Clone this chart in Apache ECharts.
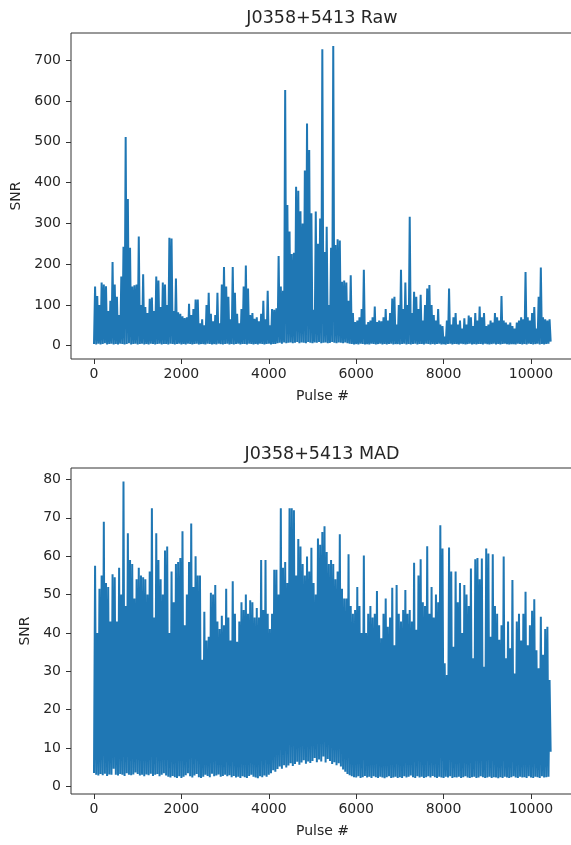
<!DOCTYPE html>
<html>
<head>
<meta charset="utf-8">
<script src="https://cdn.jsdelivr.net/npm/echarts@6/dist/echarts.min.js"></script>
<style>
  html, body { margin: 0; padding: 0; background: #ffffff; overflow: hidden; }
  #chart { width: 580px; height: 845px; }
</style>
</head>
<body>
<div id="chart"></div>
<script>
// Single-pulse SNR of J0358+5413, summarised as per-bin extremes
// (bin k spans pulses 50k .. 50k+49; the trace swings floor -> peak inside each bin).
const BIN = 50;

const pulseTicks = [0, 2000, 4000, 6000, 8000, 10000];
const rawTicks = [0, 100, 200, 300, 400, 500, 600, 700];
const madTicks = [0, 10, 20, 30, 40, 50, 60, 70, 80];

const rawPeak = [
  145, 122, 100, 155, 150, 146, 85, 110, 205, 150,
  120, 75, 170, 243, 512, 360, 240, 145, 148, 150,
  268, 100, 175, 95, 80, 115, 118, 85, 170, 160,
  95, 155, 150, 100, 265, 263, 85, 165, 82, 78,
  72, 68, 70, 103, 75, 90, 113, 113, 55, 65,
  50, 100, 130, 78, 60, 75, 130, 55, 150, 193,
  145, 120, 65, 193, 130, 78, 55, 90, 145, 197,
  140, 75, 80, 66, 70, 60, 78, 110, 65, 135,
  50, 90, 88, 92, 220, 145, 135, 627, 345, 280,
  225, 228, 390, 380, 330, 300, 430, 545, 480, 325,
  88, 329, 250, 312, 727, 230, 292, 100, 240, 735,
  247, 261, 258, 157, 160, 155, 110, 173, 80, 58,
  62, 70, 90, 186, 52, 58, 62, 70, 96, 58,
  62, 60, 70, 90, 62, 80, 116, 120, 52, 100,
  186, 90, 155, 100, 316, 80, 132, 120, 90, 125,
  62, 100, 140, 149, 100, 75, 62, 90, 52, 48,
  22, 62, 140, 52, 70, 80, 52, 62, 42, 67,
  52, 74, 70, 48, 80, 62, 96, 70, 80, 48,
  52, 62, 57, 80, 70, 62, 122, 62, 57, 52,
  57, 48, 42, 57, 62, 70, 65, 181, 70, 62,
  80, 95, 42, 120, 192, 70, 65, 62, 65
];

const rawFloor = [
  4, 3, 5, 3, 4, 6, 3, 4, 5, 3,
  4, 3, 5, 4, 3, 4, 6, 3, 4, 5,
  3, 4, 5, 3, 4, 3, 5, 4, 3, 4,
  5, 3, 4, 4, 3, 5, 4, 3, 4, 5,
  3, 4, 3, 5, 4, 3, 4, 5, 3, 4,
  4, 3, 5, 4, 3, 4, 3, 5, 4, 3,
  4, 5, 3, 4, 3, 4, 5, 3, 4, 4,
  3, 5, 4, 3, 4, 3, 5, 4, 3, 4,
  5, 3, 4, 4, 6, 7, 5, 8, 6, 7,
  8, 6, 7, 9, 6, 8, 7, 6, 9, 7,
  6, 8, 7, 9, 6, 7, 8, 6, 7, 9,
  7, 6, 8, 7, 6, 8, 6, 5, 4, 3,
  4, 3, 5, 4, 3, 4, 3, 5, 4, 3,
  4, 5, 3, 4, 3, 4, 5, 3, 4, 4,
  3, 4, 5, 3, 4, 3, 4, 5, 3, 4,
  4, 3, 5, 4, 3, 4, 3, 4, 5, 3,
  4, 3, 4, 5, 3, 4, 4, 3, 5, 4,
  3, 4, 5, 3, 4, 3, 4, 4, 3, 5,
  4, 3, 4, 5, 3, 4, 3, 4, 5, 4,
  3, 4, 4, 3, 5, 4, 3, 4, 3, 5,
  4, 3, 4, 5, 3, 4, 3, 4, 5, 10
];

const madPeak = [
  57.5, 40, 51.5, 55, 69, 53, 52, 43, 55.3, 54.5,
  43, 57, 50, 79.5, 47, 66, 59, 58, 49, 54,
  57, 55, 54.5, 54, 50, 56, 72.5, 44, 66, 59,
  54, 50, 61.5, 62.5, 40, 56, 48, 58, 58.5, 59.5,
  66.5, 42, 50, 58.5, 68.5, 52, 60, 55, 55, 33,
  45.5, 38, 39, 50.5, 50, 52.5, 43, 41, 44.5, 42,
  51.5, 44, 38, 53.5, 45, 37.7, 43, 48, 46, 50,
  45, 48.5, 48, 44, 46.5, 44, 59, 46, 59, 45,
  41, 45, 56.5, 56.5, 50, 72.5, 57, 58.5, 53, 72.5,
  72.5, 72, 55, 64.5, 62.5, 58, 55, 59.9, 56, 62.2,
  53, 50, 64.6, 63, 66.3, 67.8, 61.1, 58, 59, 58,
  54, 56, 65.7, 51.5, 49, 49, 60.5, 47, 45, 46,
  52, 47, 40, 60.2, 40, 45, 47, 44, 45, 50.9,
  42, 38.6, 45, 49, 41.6, 44, 51.8, 36.8, 52.5, 45,
  43, 46, 51.2, 45, 46, 43, 58.3, 40.8, 55, 59.2,
  48, 47, 62.6, 45, 52, 44, 50, 48, 68.1, 62,
  32.1, 29, 62.3, 56, 36.4, 56, 48, 53, 40, 52.5,
  50, 47, 56.8, 33.4, 59.2, 59.5, 54, 59.4, 31.2, 62,
  60.7, 39, 60.5, 47, 45, 38.2, 42, 59.9, 33.4, 43,
  36, 53.8, 29.4, 43, 45, 38, 45, 50.7, 36.8, 42,
  45.8, 48.8, 35.5, 30.8, 44.2, 34.3, 41, 41.6, 27.7
];

const madFloor = [
  3.5, 3, 2.8, 3.2, 2.9, 3.3, 2.7, 3.1, 3, 4.6,
  3, 2.8, 3.2, 3, 2.7, 3.4, 3, 2.9, 3.1, 3.6,
  3.2, 2.8, 3, 2.6, 3.1, 2.9, 3.3, 2.7, 3, 3.2,
  2.6, 3, 3.4, 2.8, 2.5, 2.3, 2.7, 2.4, 2.2, 2.6,
  2.2, 2.5, 2.9, 3.4, 2.6, 2.3, 2.8, 3.2, 2.4, 2.2,
  2.5, 3, 2.7, 2.4, 3.3, 2.6, 2.8, 3.1, 2.5, 2.7,
  3, 2.6, 2.9, 2.4, 2.7, 2.3, 2.5, 2.2, 2.6, 2.4,
  2.2, 2.7, 3, 2.5, 2.3, 2.1, 2.6, 2.4, 2.8, 2.5,
  3, 3.4, 4.2, 3.8, 4.5, 5.2, 4.6, 5.5, 4.9, 5.4,
  6, 5.3, 5.8, 6.4, 5.6, 6.2, 6.8, 5.9, 6.5, 6.1,
  6.6, 7.4, 6.3, 7, 6.5, 7.8, 6.2, 7.1, 6.6, 5.8,
  6.3, 5.5, 6, 5.2, 4.4, 3.8, 3.2, 2.9, 2.6, 2.4,
  2.3, 2.6, 2.2, 2.4, 2.7, 2.3, 2.5, 2.2, 2.6, 2.4,
  2.2, 2.5, 2.3, 2.1, 2.4, 2.6, 2.2, 2.3, 2.5, 2.2,
  2.4, 2.2, 2.6, 2.3, 2.5, 2.8, 2.4, 2.2, 2.6, 2.3,
  2.5, 2.2, 2.4, 2.6, 2.3, 2.7, 2.4, 2.2, 2.5, 2.3,
  2.2, 2.5, 2.3, 2.6, 2.2, 2.4, 2.3, 2.5, 2.2, 2.4,
  2.6, 2.3, 2.2, 2.4, 2.5, 2.2, 2.3, 2.6, 2.4, 2.2,
  2.3, 2.5, 2.2, 2.4, 2.3, 2.1, 2.4, 2.2, 2.5, 2.3,
  2.2, 2.4, 2.6, 2.3, 2.2, 2.5, 2.3, 2.4, 2.2, 2.6,
  2.3, 2.2, 2.5, 2.4, 2.2, 2.6, 2.3, 2.4, 2.5, 9
];

// Turn per-bin extremes into a single [pulse, snr] trace.
function trace(peak, floor) {
  const pts = [];
  for (let k = 0; k < peak.length; k++) {
    pts.push([k * BIN, floor[k]]);
    pts.push([k * BIN + BIN / 2, peak[k]]);
  }
  pts.push([peak.length * BIN, floor[peak.length]]);
  return pts;
}

const FONT = 'DejaVu Sans';
const INK = '#262626';
const BLUE = '#1f77b4';

function xAxisFor(gridIndex) {
  return {
    type: 'value', gridIndex: gridIndex,
    min: -526, max: 10984,
    name: 'Pulse #', nameLocation: 'middle', nameGap: 30,
    nameTextStyle: { fontFamily: FONT, fontSize: 14, color: INK },
    axisLine: { show: false, onZero: false },
    splitLine: { show: false },
    axisTick: { show: true, length: 5, customValues: pulseTicks,
                lineStyle: { color: '#333', width: 1 } },
    axisLabel: { customValues: pulseTicks, margin: 8,
                 fontFamily: FONT, fontSize: 14, color: INK,
                 formatter: v => String(v) }
  };
}

function yAxisFor(gridIndex, min, max, ticks, gap) {
  return {
    type: 'value', gridIndex: gridIndex,
    min: min, max: max,
    name: 'SNR', nameLocation: 'middle', nameGap: gap,
    nameTextStyle: { fontFamily: FONT, fontSize: 14, color: INK },
    axisLine: { show: false, onZero: false },
    splitLine: { show: false },
    axisTick: { show: true, length: 5, customValues: ticks,
                lineStyle: { color: '#333', width: 1 } },
    axisLabel: { customValues: ticks, margin: 10,
                 fontFamily: FONT, fontSize: 14, color: INK,
                 formatter: v => String(v) }
  };
}

const chart = echarts.init(document.getElementById('chart'), null, { renderer: 'canvas' });

chart.setOption({
  animation: false,
  backgroundColor: '#ffffff',
  graphic: [
    { type: 'text', x: 322, y: 18,
      style: { text: 'J0358+5413 Raw', font: '17.5px "DejaVu Sans"', fill: INK,
               align: 'center', verticalAlign: 'middle' } },
    { type: 'text', x: 322, y: 454,
      style: { text: 'J0358+5413 MAD', font: '17.5px "DejaVu Sans"', fill: INK,
               align: 'center', verticalAlign: 'middle' } }
  ],
  grid: [
    { left: 71, top: 33, width: 503, height: 326, show: true,
      outerBoundsMode: 'none', containLabel: false,
      borderColor: '#333', borderWidth: 1, backgroundColor: 'transparent' },
    { left: 71, top: 468, width: 503, height: 326, show: true,
      outerBoundsMode: 'none', containLabel: false,
      borderColor: '#333', borderWidth: 1, backgroundColor: 'transparent' }
  ],
  xAxis: [xAxisFor(0), xAxisFor(1)],
  yAxis: [
    yAxisFor(0, -32.6, 767, rawTicks, 44),
    yAxisFor(1, -2, 83, madTicks, 36)
  ],
  series: [
    { type: 'line', name: 'Raw', xAxisIndex: 0, yAxisIndex: 0,
      data: trace(rawPeak, rawFloor), symbol: 'none', silent: true,
      lineStyle: { color: BLUE, width: 2 } },
    { type: 'line', name: 'MAD', xAxisIndex: 1, yAxisIndex: 1,
      data: trace(madPeak, madFloor), symbol: 'none', silent: true,
      lineStyle: { color: BLUE, width: 2 } }
  ]
});
</script>
</body>
</html>
